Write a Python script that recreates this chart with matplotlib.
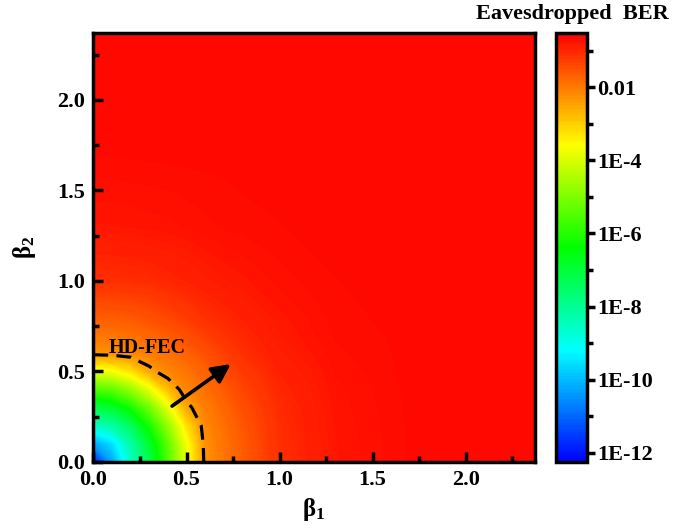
import numpy as np
import matplotlib
matplotlib.use('Agg')
import matplotlib.pyplot as plt
from matplotlib.colors import LinearSegmentedColormap, Normalize

plt.rcParams['font.family'] = ['Liberation Serif', 'DejaVu Serif']
plt.rcParams['font.weight'] = 'bold'
plt.rcParams['mathtext.fontset'] = 'custom'
plt.rcParams['mathtext.rm'] = 'Liberation Serif:bold'
plt.rcParams['mathtext.bf'] = 'Liberation Serif:bold'
plt.rcParams['mathtext.it'] = 'Liberation Serif:bold'

# grid of beta values (same for beta1 and beta2)
beta = [0.0, 0.1, 0.2, 0.3, 0.4, 0.5, 0.6, 0.7, 0.8, 1.0, 1.3, 1.7, 2.1, 2.4]

# log10(eavesdropped BER), rows = beta2, columns = beta1
log_ber = [
    [-12.0, -10.3, -8.6, -7.2, -5.6, -3.9, -2.3, -1.95, -1.65, -1.1, -0.80, -0.67, -0.63, -0.62],
    [-10.3, -9.6, -8.26, -6.94, -5.40, -3.74, -2.27, -1.93, -1.63, -1.09, -0.80, -0.67, -0.63, -0.62],
    [-8.6, -8.26, -7.44, -6.22, -4.80, -3.28, -2.19, -1.87, -1.58, -1.08, -0.79, -0.67, -0.63, -0.62],
    [-7.2, -6.94, -6.22, -5.19, -3.9, -2.57, -2.05, -1.76, -1.49, -1.05, -0.78, -0.665, -0.63, -0.62],
    [-5.6, -5.40, -4.80, -3.9, -2.84, -2.16, -1.89, -1.63, -1.37, -1.0, -0.77, -0.665, -0.63, -0.62],
    [-3.9, -3.74, -3.28, -2.57, -2.16, -1.93, -1.71, -1.47, -1.24, -0.95, -0.75, -0.66, -0.63, -0.62],
    [-2.3, -2.27, -2.19, -2.05, -1.89, -1.71, -1.50, -1.30, -1.1, -0.89, -0.73, -0.66, -0.63, -0.62],
    [-1.95, -1.93, -1.87, -1.76, -1.63, -1.47, -1.30, -1.13, -1.02, -0.84, -0.71, -0.66, -0.63, -0.62],
    [-1.65, -1.63, -1.58, -1.49, -1.37, -1.24, -1.1, -1.02, -0.94, -0.81, -0.70, -0.65, -0.63, -0.62],
    [-1.1, -1.09, -1.08, -1.05, -1.0, -0.95, -0.89, -0.84, -0.81, -0.74, -0.68, -0.64, -0.63, -0.62],
    [-0.80, -0.80, -0.79, -0.78, -0.77, -0.75, -0.73, -0.71, -0.70, -0.68, -0.65, -0.64, -0.63, -0.62],
    [-0.67, -0.67, -0.67, -0.665, -0.665, -0.66, -0.66, -0.66, -0.65, -0.64, -0.64, -0.63, -0.62, -0.62],
    [-0.63, -0.63, -0.63, -0.63, -0.63, -0.63, -0.63, -0.63, -0.63, -0.63, -0.63, -0.62, -0.62, -0.62],
    [-0.62, -0.62, -0.62, -0.62, -0.62, -0.62, -0.62, -0.62, -0.62, -0.62, -0.62, -0.62, -0.62, -0.62],
]

hd_fec = np.log10(3.8e-3)
cbar_ticks = [-12, -10, -8, -6, -4, -2]
cbar_labels = ['1E-12', '1E-10', '1E-8', '1E-6', '1E-4', '0.01']

cmap = LinearSegmentedColormap.from_list('origin_rainbow', [
    (0.0, (0, 0, 1)),
    (0.26, (0, 1, 1)),
    (0.5, (0, 1, 0)),
    (0.74, (1, 1, 0)),
    (1.0, (1, 0, 0)),
])
vmin, vmax = -12.25, -0.52
norm = Normalize(vmin=vmin, vmax=vmax)

B1, B2 = np.meshgrid(beta, beta)
Z = np.array(log_ber)

fig = plt.figure(figsize=(6.76, 5.32), dpi=100)
ax = fig.add_axes([0.1383, 0.1316, 0.6524, 0.8064])
cax = fig.add_axes([0.8225, 0.1316, 0.0459, 0.8064])

cf = ax.contourf(B1, B2, Z, levels=np.linspace(vmin, vmax, 300), cmap=cmap, norm=norm,
                 antialiased=False)
ax.contour(B1, B2, Z, levels=[hd_fec], colors='k', linewidths=2.3,
           linestyles=[(0, (4.6, 2.6))])
ax.annotate('', xy=(0.75, 0.55), xytext=(0.41, 0.30),
            arrowprops=dict(arrowstyle='-|>', lw=2.6, color='k', mutation_scale=28))
ax.text(0.08, 0.63, 'HD-FEC', fontsize=14.5, fontweight='bold', va='center', ha='left')

ax.set_xlim(0, 2.37)
ax.set_ylim(0, 2.37)
ax.set_xticks([0, 0.5, 1.0, 1.5, 2.0])
ax.set_yticks([0, 0.5, 1.0, 1.5, 2.0])
ax.set_xticks(np.arange(0.25, 2.37, 0.5), minor=True)
ax.set_yticks(np.arange(0.25, 2.37, 0.5), minor=True)
ax.xaxis.set_major_formatter(plt.FormatStrFormatter('%.1f'))
ax.yaxis.set_major_formatter(plt.FormatStrFormatter('%.1f'))
ax.tick_params(which='major', direction='in', length=7, width=2.5, labelsize=16, pad=6)
ax.tick_params(which='minor', direction='in', length=4, width=2.5)
for s in ax.spines.values():
    s.set_linewidth(2.5)
ax.set_xlabel(r'$\mathbf{β_{1}}$', fontsize=18, labelpad=4)
ax.set_ylabel(r'$\mathbf{β_{2}}$', fontsize=18, labelpad=14)

cb = fig.colorbar(cf, cax=cax)
cb.set_ticks(cbar_ticks)
cb.set_ticklabels(cbar_labels)
cax.set_yticks([-11, -9, -7, -5, -3, -1], minor=True)
cax.tick_params(which='major', direction='out', length=6, width=2.5, labelsize=16, pad=1)
cax.tick_params(which='minor', direction='out', length=4, width=2.5)
cb.outline.set_linewidth(2.5)

fig.text(0.99, 0.974, 'Eavesdropped  BER', fontsize=16, fontweight='bold',
         ha='right', va='center')

fig.savefig('out.png', dpi=100)
